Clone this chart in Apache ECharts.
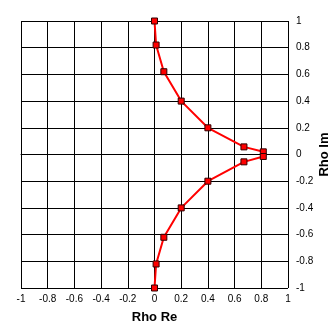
<!DOCTYPE html>
<html>
<head>
<meta charset="utf-8">
<script src="https://cdn.jsdelivr.net/npm/echarts@6/dist/echarts.min.js"></script>
<style>
  html, body { margin: 0; padding: 0; background: #ffffff; }
  #chart { width: 336px; height: 326px; }
</style>
</head>
<body>
<div id="chart"></div>
<script>
// Reflection coefficient trace (real / imaginary parts)
var rhoRe = [0, 0.012, 0.07, 0.2, 0.4, 0.67, 0.815, 0.815, 0.67, 0.4, 0.2, 0.07, 0.012, 0];
var rhoIm = [1, 0.82, 0.62, 0.4, 0.2, 0.057, 0.02, -0.015, -0.055, -0.2, -0.4, -0.62, -0.82, -1];
var axisMin = -1;
var axisMax = 1;
var axisStep = 0.2;

var points = rhoRe.map(function (re, i) { return [re, rhoIm[i]]; });

var labelFont = {
  color: '#000',
  fontFamily: 'Liberation Sans, Arial, sans-serif',
  fontSize: 10
};

var chart = echarts.init(document.getElementById('chart'), null, { renderer: 'canvas' });
chart.setOption({
  animation: false,
  backgroundColor: '#ffffff',
  grid: { left: 21, right: 48, top: 21, bottom: 38, containLabel: false, outerBoundsMode: 'none' },
  xAxis: {
    type: 'value',
    min: axisMin, max: axisMax, interval: axisStep,
    name: 'Rho Re',
    nameLocation: 'middle',
    nameGap: 23,
    nameMoveOverlap: false,
    nameTextStyle: { color: '#000', fontFamily: 'Liberation Sans, Arial, sans-serif', fontWeight: 'bold', fontSize: 13 },
    axisLine: { show: true, lineStyle: { color: '#000', width: 1 } },
    axisTick: { show: false },
    axisLabel: Object.assign({ margin: 6 }, labelFont),
    splitLine: { show: true, lineStyle: { color: '#000', width: 1 } }
  },
  yAxis: {
    type: 'value',
    position: 'right',
    min: axisMin, max: axisMax, interval: axisStep,
    name: 'Rho Im',
    nameLocation: 'middle',
    nameRotate: 90,
    nameGap: 30,
    nameMoveOverlap: false,
    nameTextStyle: { color: '#000', fontFamily: 'Liberation Sans, Arial, sans-serif', fontWeight: 'bold', fontSize: 13 },
    axisLine: { show: true, lineStyle: { color: '#000', width: 1 } },
    axisTick: { show: false },
    axisLabel: Object.assign({ margin: 8, align: 'left' }, labelFont),
    splitLine: { show: true, lineStyle: { color: '#000', width: 1 } }
  },
  series: [{
    type: 'line',
    data: points,
    symbol: 'rect',
    symbolSize: 6,
    itemStyle: { color: '#ff0000', borderColor: '#300000', borderWidth: 1 },
    lineStyle: { color: '#ff0000', width: 2 },
    z: 5
  }]
});
</script>
</body>
</html>
